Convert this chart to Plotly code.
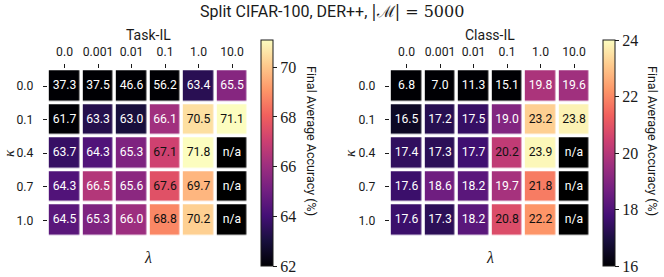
import plotly.graph_objects as go

lambdas = ["0.0", "0.001", "0.01", "0.1", "1.0", "10.0"]
kappas = ["0.0", "0.1", "0.4", "0.7", "1.0"]

task_il = [
    [37.3, 37.5, 46.6, 56.2, 63.4, 65.5],
    [61.7, 63.3, 63.0, 66.1, 70.5, 71.1],
    [63.7, 64.3, 65.3, 67.1, 71.8, None],
    [64.3, 66.5, 65.6, 67.6, 69.7, None],
    [64.5, 65.3, 66.0, 68.8, 70.2, None],
]
class_il = [
    [6.8, 7.0, 11.3, 15.1, 19.8, 19.6],
    [16.5, 17.2, 17.5, 19.0, 23.2, 23.8],
    [17.4, 17.3, 17.7, 20.2, 23.9, None],
    [17.6, 18.6, 18.2, 19.7, 21.8, None],
    [17.6, 17.3, 18.2, 20.8, 22.2, None],
]
task_range = [62, 71.1]
class_range = [16, 24]
task_ticks = [62, 64, 66, 68, 70]
class_ticks = [16, 18, 20, 22, 24]

W, H = 664, 277
SANS = "Roboto"
SERIF = "Liberation Serif"
GAP = 3.5
INK = "#1a1a1a"

fig = go.Figure()


def px_x(v):
    return v / W


def px_y(v):
    return 1 - v / H


panels = [
    dict(z=task_il, rng=task_range, ticks=task_ticks, xa="x", ya="y",
         x0=47.8, x1=248.8, cbx=260.7, name="Task-IL", cx=148, kx=9, tx=312),
    dict(z=class_il, rng=class_range, ticks=class_ticks, xa="x2", ya="y2",
         x0=389.8, x1=590.8, cbx=603.2, name="Class-IL", cx=490, kx=350, tx=653),
]

y_top, y_bot = 69.2, 237.2


def ann(text, x, y, size, family=SANS, angle=0):
    fig.add_annotation(text=text, x=px_x(x), y=px_y(y), xref="paper", yref="paper",
                       xanchor="center", yanchor="middle", showarrow=False,
                       textangle=angle, font=dict(family=family, size=size, color=INK))


for i, p in enumerate(panels):
    lo, hi = p["rng"]
    # n/a mask
    mask = [[1 if v is None else None for v in row] for row in p["z"]]
    fig.add_trace(go.Heatmap(
        z=mask, x=lambdas, y=kappas, colorscale=[[0, "black"], [1, "black"]],
        showscale=False, xgap=GAP, ygap=GAP, hoverinfo="skip",
        xaxis=p["xa"], yaxis=p["ya"]))
    fig.add_trace(go.Heatmap(
        z=p["z"], x=lambdas, y=kappas, colorscale="Magma", zmin=lo, zmax=hi,
        xgap=GAP, ygap=GAP, hoverinfo="skip",
        xaxis=p["xa"], yaxis=p["ya"],
        colorbar=dict(
            x=px_x(p["cbx"]), xanchor="left", y=px_y(153), yanchor="middle",
            len=226 / H, lenmode="fraction", thickness=11.6,
            xpad=0, ypad=0, outlinewidth=1, outlinecolor=INK,
            ticks="outside", ticklen=4, tickwidth=1, tickcolor=INK,
            tickvals=p["ticks"],
            tickfont=dict(family=SERIF, size=16, color=INK),
        )))
    xs, ys, txt, cols = [], [], [], []
    for r, k in enumerate(kappas):
        for c, l in enumerate(lambdas):
            v = p["z"][r][c]
            xs.append(l)
            ys.append(k)
            if v is None:
                txt.append("n/a")
                cols.append("white")
            else:
                txt.append(f"{v:.1f}")
                frac = (v - lo) / (hi - lo)
                cols.append("#111" if frac > 0.5 else "white")
    fig.add_trace(go.Scatter(
        x=xs, y=ys, mode="text", text=txt,
        textfont=dict(family=SANS, size=12.2, color=cols),
        hoverinfo="skip", showlegend=False,
        xaxis=p["xa"], yaxis=p["ya"]))

    sfx = "" if i == 0 else "2"
    fig.update_layout(**{
        f"xaxis{sfx}": dict(
            domain=[px_x(p["x0"]), px_x(p["x1"])], anchor=p["ya"], side="top",
            type="category", categoryorder="array", categoryarray=lambdas,
            range=[-0.5, len(lambdas) - 0.5], autorange=False,
            showgrid=False, zeroline=False, showline=False,
            ticks="outside", ticklen=4, tickwidth=1, tickcolor=INK,
            ticklabelstandoff=3,
            tickfont=dict(family=SANS, size=12.2, color=INK),
        ),
        f"yaxis{sfx}": dict(
            domain=[px_y(y_bot), px_y(y_top)], anchor=p["xa"],
            type="category", categoryorder="array", categoryarray=kappas,
            range=[len(kappas) - 0.5, -0.5], autorange=False,
            showgrid=False, zeroline=False, showline=False,
            ticks="outside", ticklen=4, tickwidth=1, tickcolor=INK,
            ticklabelstandoff=7,
            tickfont=dict(family=SANS, size=12.2, color=INK),
        ),
    })

    ann(p["name"], p["cx"], 35, 14)
    ann("<i>λ</i>", p["cx"], 257, 16, SERIF)
    ann("<i>κ</i>", p["kx"], 153, 15, SERIF, -90)
    ann("Final Average Accuracy (%)", p["tx"], 141, 12.5, SANS, 90)

ann("Split CIFAR-100, DER++, "
    "<span style='font-family:DejaVu Serif;font-size:16px'>|ℳ| = 5000</span>",
    332, 11, 16)

fig.update_layout(
    width=W, height=H, margin=dict(l=0, r=0, t=0, b=0, autoexpand=False),
    paper_bgcolor="white", plot_bgcolor="white", showlegend=False,
)

fig.write_html("out.html", config={"displayModeBar": False},
               post_script="document.body.style.margin='0';document.body.style.padding='0';")
